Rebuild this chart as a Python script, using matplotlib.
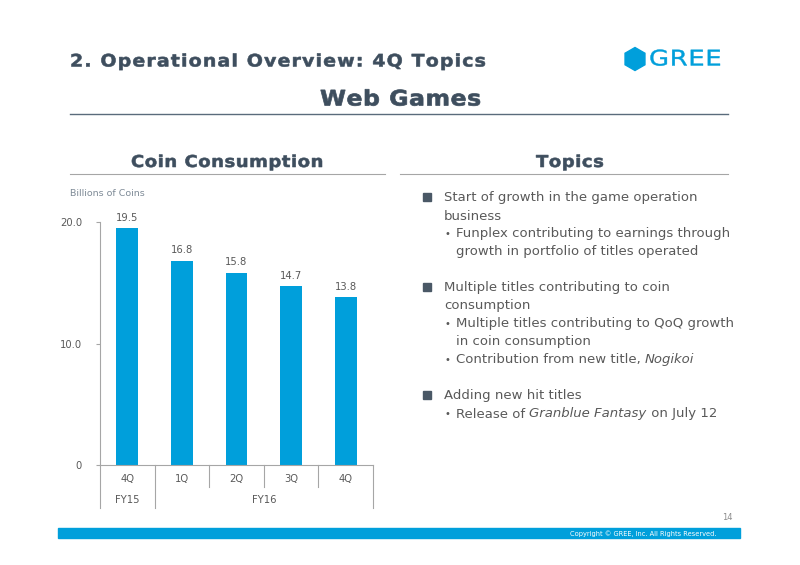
import numpy as np
import matplotlib.pyplot as plt
from matplotlib.patches import RegularPolygon, Rectangle, PathPatch
from matplotlib.font_manager import FontProperties, findfont, get_font
from matplotlib.textpath import TextPath
from matplotlib.path import Path
from matplotlib.transforms import Affine2D

# Coin consumption data (billions of coins)
quarters = ['4Q', '1Q', '2Q', '3Q', '4Q']
coins = [19.5, 16.8, 15.8, 14.7, 13.8]
fiscal_years = ['FY15', 'FY16']
fy_spans = [(0, 0), (1, 4)]  # first and last quarter index of each FY
y_ticks = [0, 10, 20]
y_tick_labels = ['0', '10.0', '20.0']

# Topics panel: (kind, [(text, style), ...])
topics = [
    ('main', [('Start of growth in the game operation', 'normal')]),
    ('cont', [('business', 'normal')]),
    ('sub', [('Funplex contributing to earnings through', 'normal')]),
    ('cont2', [('growth in portfolio of titles operated', 'normal')]),
    ('blank', []),
    ('main', [('Multiple titles contributing to coin', 'normal')]),
    ('cont', [('consumption', 'normal')]),
    ('sub', [('Multiple titles contributing to QoQ growth', 'normal')]),
    ('cont2', [('in coin consumption', 'normal')]),
    ('sub', [('Contribution from new title, ', 'normal'), ('Nogikoi', 'italic')]),
    ('blank', []),
    ('main', [('Adding new hit titles', 'normal')]),
    ('sub', [('Release of ', 'normal'), ('Granblue Fantasy', 'italic'), (' on July 12', 'normal')]),
]

W, H = 800, 565
BLUE = '#009FDB'
DARK = '#3E4E5E'
GRAY = '#595959'
LINE = '#A6A6A6'

plt.rcParams['font.family'] = ['DejaVu Sans']

fig = plt.figure(figsize=(W / 100, H / 100), dpi=100)

# background axes in pixel units, origin top-left
bg = fig.add_axes([0, 0, 1, 1])
bg.set_xlim(0, W)
bg.set_ylim(H, 0)
bg.axis('off')


def spaced(x, baseline, s, size, width, color, weight='normal', ha='left',
           stretch=1.1, stroke=0.0):
    # letter-spaced heading drawn as one path whose ink spans `width` pixels
    prop = FontProperties(family='DejaVu Sans', weight=weight)
    f = get_font(findfont(prop))
    f.set_size(size, 100)
    px = size * 100 / 72
    adv = [f.load_char(ord(c)).linearHoriAdvance / 65536 for c in s]
    pieces = []
    pen = 0.0
    for c, a in zip(s, adv):
        if c != ' ':
            pieces.append((pen, TextPath((0, 0), c, size=px, prop=prop)))
        pen += a
    # ink extent with no extra spacing
    ink0 = min(p + tp.vertices[:, 0].min() for p, tp in pieces)
    ink1 = max(p + tp.vertices[:, 0].max() for p, tp in pieces)
    sp = (width / stretch - (ink1 - ink0)) / (len(s) - 1)
    verts, codes = [], []
    pen = 0.0
    for c, a in zip(s, adv):
        if c != ' ':
            tp = TextPath((0, 0), c, size=px, prop=prop)
            verts.append(tp.vertices + [pen, 0])
            codes.append(tp.codes)
        pen += a + sp
    v = np.concatenate(verts)
    v[:, 0] -= v[:, 0].min()
    path = Path(v, np.concatenate(codes))
    left = x - width / 2 if ha == 'center' else x
    tr = Affine2D().scale(stretch, -1).translate(left, baseline)
    bg.add_patch(PathPatch(tr.transform_path(path), facecolor=color,
                           edgecolor=color if stroke else 'none', lw=stroke))


# Header
spaced(70, 66.5, '2. Operational Overview: 4Q Topics', 12.4, 415, DARK,
       weight='bold', stroke=0.4)
spaced(400, 105.5, 'Web Games', 15.4, 160, DARK, weight='bold', ha='center', stroke=0.5)
bg.plot([70, 728], [114, 114], color='#5A6B7B', lw=1.0)

# GREE logo
bg.add_patch(RegularPolygon((635, 59), numVertices=6, radius=11.5, orientation=0,
                            color=BLUE))
spaced(649, 65.5, 'GREE', 15.5, 71, BLUE, stretch=1.2, stroke=0.3)

# Section headings
spaced(226.5, 167, 'Coin Consumption', 11.8, 191, DARK, weight='bold', ha='center',
       stroke=0.4)
bg.plot([70, 385], [174, 174], color=LINE, lw=0.8)
spaced(569.5, 167, 'Topics', 11.8, 67, DARK, weight='bold', ha='center', stroke=0.4)
bg.plot([400, 728], [174, 174], color=LINE, lw=0.8)

bg.text(70, 194, 'Billions of Coins', fontsize=6.8, color='#7F8B97', va='center', ha='left')

# Bar chart
ax = fig.add_axes([100 / W, 1 - 465 / H, (373 - 100) / W, (465 - 222) / H])
x = np.arange(len(quarters))
ax.bar(x, coins, width=0.4, color=BLUE)
for xi, v in zip(x, coins):
    ax.annotate(f'{v:.1f}', (xi, v), xytext=(0, 4), textcoords='offset points',
                ha='center', va='bottom', fontsize=7.2, color=GRAY, annotation_clip=False)
ax.set_xlim(-0.5, len(quarters) - 0.5)
ax.set_ylim(0, 20)
ax.set_yticks(y_ticks)
ax.set_yticklabels(y_tick_labels, fontsize=7.2, color=GRAY)
ax.tick_params(axis='y', length=3, pad=10, color=LINE, width=0.8)
ax.set_xticks([])
for s in ['top', 'right']:
    ax.spines[s].set_visible(False)
for s in ['left', 'bottom']:
    ax.spines[s].set_color(LINE)
    ax.spines[s].set_linewidth(0.8)
ax.patch.set_alpha(0)

# Category labels below the axis
to_px = lambda xd: ax.transData.transform((xd, 0))[0]
for i, q in enumerate(quarters):
    bg.text(to_px(i), 479, q, fontsize=7.2, color=GRAY, ha='center', va='center')
fy_edges = [s - 0.5 for s, e in fy_spans] + [len(quarters) - 0.5]
for i in range(len(quarters) + 1):
    b = i - 0.5
    bg.plot([to_px(b)] * 2, [465, 508 if b in fy_edges else 487], color=LINE, lw=0.8)
for name, (s, e) in zip(fiscal_years, fy_spans):
    bg.text((to_px(s - 0.5) + to_px(e + 0.5)) / 2, 500, name, fontsize=7.2,
            color=GRAY, ha='center', va='center')

# Topics text
renderer = fig.canvas.get_renderer()
y = 198
for kind, parts in topics:
    xs = None
    if kind == 'main':
        bg.add_patch(Rectangle((423, y - 5), 7.5, 7.5, color='#4A5866'))
        xs = 444
    elif kind == 'cont':
        xs = 444
    elif kind == 'sub':
        bg.text(445, y, '•', fontsize=7, color=GRAY, ha='left', va='center')
        xs = 456
    elif kind == 'cont2':
        xs = 456
    if xs is not None:
        cur = xs
        for txt, style in parts:
            t = bg.text(cur, y + 3.5, txt, fontsize=9.5, color=GRAY, style=style,
                        ha='left', va='baseline')
            cur += t.get_window_extent(renderer).width
    y += 18

# Footer
bg.text(733, 518, '14', fontsize=6, color='#8C8C8C', ha='right', va='center')
bg.add_patch(Rectangle((58, 528), 740 - 58, 10, color=BLUE))
bg.text(716, 533.5, 'Copyright \u00a9 GREE, Inc. All Rights Reserved.',
        fontsize=4.8, color='white', ha='right', va='center')

fig.savefig('out.png', dpi=100)
